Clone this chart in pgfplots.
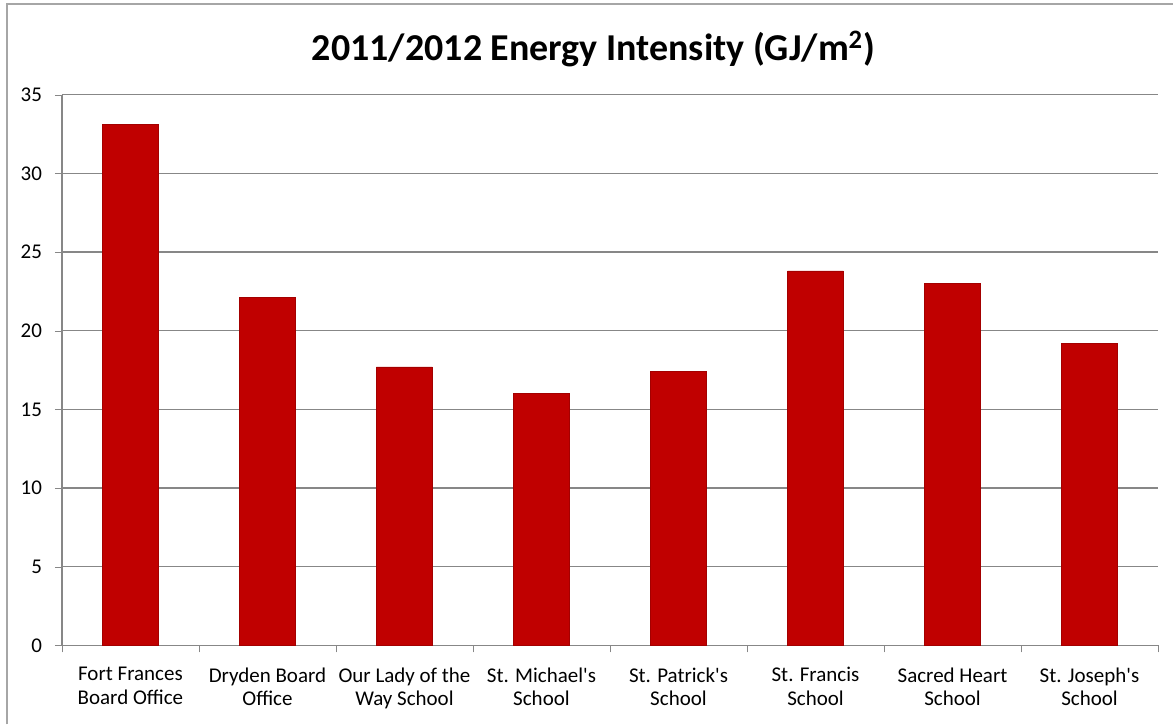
\documentclass[border=0pt]{standalone}
\usepackage{pgfplots}
\pgfplotsset{compat=1.18}
\usepackage{fontspec}
\setmainfont{Carlito}
\definecolor{barred}{HTML}{C00000}
\definecolor{gridgray}{HTML}{878787}
\begin{document}
\begin{tikzpicture}[x=1pt,y=1pt]
% background / bounding box in px*0.5, origin at axis lower-left (px 62,646)
\fill[white] (-31,-39.5) rectangle (556,323);
\draw[gray!70, line width=1pt] (-27.5,-39.5) -- (-27.5,321) -- (556,321);
\begin{axis}[
  at={(0pt,0pt)}, anchor=south west,
  scale only axis,
  width=548.5pt, height=275.6pt,
  xmin=-0.5, xmax=7.5,
  ymin=0, ymax=35,
  ytick={0,5,...,35},
  xtick={0,...,7},
  xticklabels={{Fort Frances\\Board Office},{Dryden Board\\Office},{Our Lady of the\\Way School},{St. Michael\textquotesingle s\\School},{St. Patrick\textquotesingle s\\School},{St. Francis\\School},{Sacred Heart\\School},{St. Joseph\textquotesingle s\\School}},
  xticklabel style={align=center, font=\fontsize{10.5}{11.8}\selectfont, yshift=-4pt},
  yticklabel style={font=\fontsize{10.5}{12}\selectfont, xshift=-3pt},
  /pgf/number format/assume math mode=true,
  major x tick style={draw=none},
  minor xtick={-0.5,0.5,...,7.5},
  minor x tick style={gridgray},
  tick align=outside,
  major tick length=3.5pt, minor tick length=3.5pt,
  ytick style={gridgray},
  ymajorgrids, grid style={gridgray, line width=0.6pt},
  axis x line*=bottom, axis y line*=left,
  axis line style={gridgray, line width=0.6pt},
  ybar, bar width=28pt,
  clip=false,
]
\addplot[fill=barred, draw=barred!85!black] coordinates {(0,33.1) (1,22.1) (2,17.7) (3,16.0) (4,17.4) (5,23.8) (6,23.0) (7,19.2)};
\end{axis}
\node[font=\bfseries\fontsize{19}{22}\selectfont] at (266,298.5) {2011/2012 Energy Intensity (GJ/m\textsuperscript{2})};
\end{tikzpicture}
\end{document}
